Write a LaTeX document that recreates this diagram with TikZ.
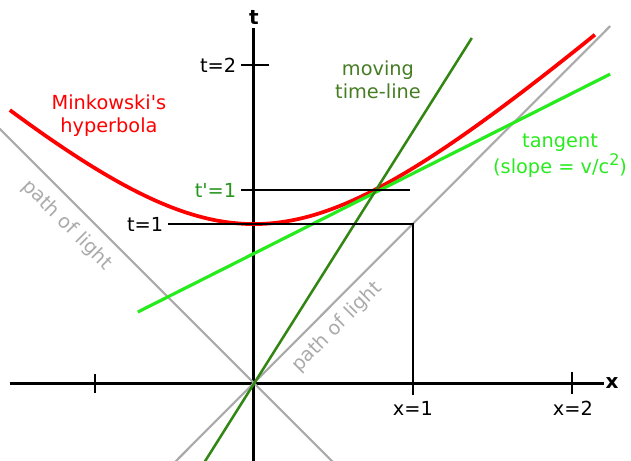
\documentclass[tikz,border=0pt]{standalone}
\usepackage{fontspec}
\setmainfont{DejaVu Sans}
\definecolor{lightgray}{RGB}{170,170,170}
\definecolor{brightgreen}{RGB}{40,235,30}
\definecolor{darkgreen}{RGB}{50,135,20}
\definecolor{labelgreen}{RGB}{70,125,35}
\definecolor{primegreen}{RGB}{40,150,30}
\tikzset{
  axis/.style={black, line width=2.3pt},
  thinline/.style={black, line width=1pt},
  lightpath/.style={lightgray, line width=1.6pt},
}

\begin{document}
\begin{tikzpicture}[x=4.19cm, y=4.19cm, font=\fontsize{14.5}{17.5}\selectfont]
    \useasboundingbox (-1.597,-0.484) rectangle (2.371,2.409);
    \clip (-1.597,-0.484) rectangle (2.371,2.409);

    % Achsen
    \draw[axis] (-1.535,0) -- (2.2,0);
    \draw[axis] (0,-0.5) -- (0,2.233);
    \node[font=\fontsize{15}{17}\selectfont\bfseries] (xlab) at (2.252,0) {x};
    \node[font=\fontsize{15}{17}\selectfont\bfseries] (tlab) at (0,2.296) {t};

    % Teilstriche
    \draw[thinline] (-1,-0.06) -- (-1,0.06);
    \draw[thinline] (2,-0.07) -- (2,0.07);
    \draw[thinline] (-0.082,2) -- (0.094,2);
    \node[left] (t2) at (-0.082,2) {t=2};
    \node (x1) at (1,-0.157) {x=1};
    \node (x2) at (2.006,-0.157) {x=2};

    % Lichtwege
    \draw[lightpath] (-1.6,1.6) -- (0.6,-0.6);
    \draw[lightpath] (-0.6,-0.6) -- (2.24,2.245);
    \node[lightgray, rotate=-45] (lightl) at (-1.176,0.994) {path of light};
    \node[lightgray, rotate=45] (lightr) at (0.522,0.352) {path of light};

    % Minkowski-Hyperbel
    \draw[red, line width=2.8pt, domain=-1.535:2.145, samples=80, smooth]
        plot (\x, {sqrt(1+(\x/1.1)^2)});
    \node[red, align=center] (hyp) at (-0.912,1.68) {Minkowski\textquotesingle s\\hyperbola};

    % Tangente
    \draw[brightgreen, line width=2.4pt] (-0.73,0.447) -- (2.24,1.943);
    \node[brightgreen, align=center] (tan) at (1.925,1.428)
        {tangent\\(slope = v/c\raisebox{0.45em}{\fontsize{12}{12}\selectfont 2})};

    % bewegte Zeitlinie
    \draw[darkgreen, line width=1.9pt] (-0.313,-0.5) -- (1.37,2.17);
    \node[labelgreen, align=center] (move) at (0.78,1.906) {moving\\time-line};

    % Hilfslinien
    \draw[thinline] (-0.541,1) -- (1,1) -- (1,-0.075);
    \node[left] (t1) at (-0.541,1) {t=1};
    \draw[thinline] (-0.082,1.214) -- (0.981,1.214);
    \node[left, primegreen] (tp1) at (-0.082,1.214) {t\textquotesingle=1};
\end{tikzpicture}
\end{document}
